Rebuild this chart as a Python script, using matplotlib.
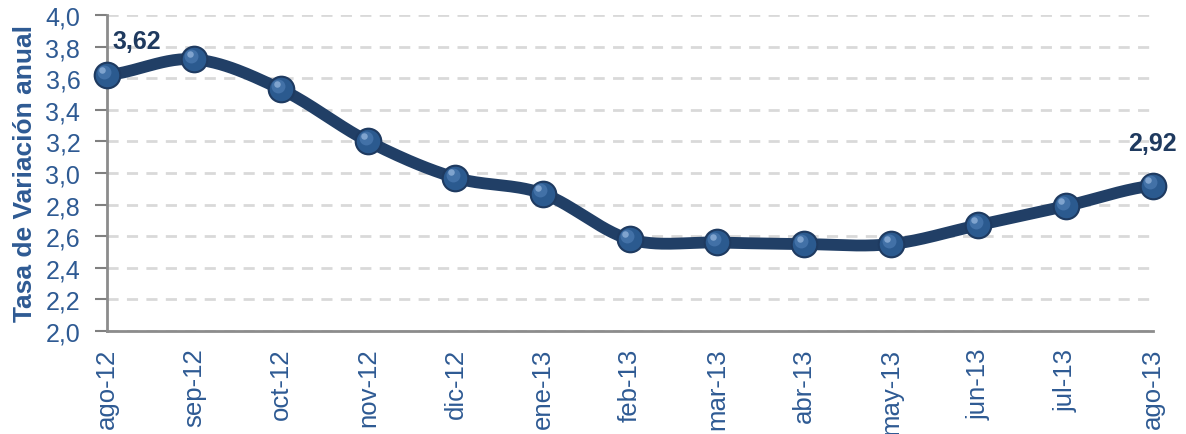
import numpy as np
import matplotlib
matplotlib.use("Agg")
import matplotlib.pyplot as plt
from matplotlib.ticker import FuncFormatter

months = ["ago-12", "sep-12", "oct-12", "nov-12", "dic-12", "ene-13", "feb-13",
          "mar-13", "abr-13", "may-13", "jun-13", "jul-13", "ago-13"]
values = [3.62, 3.72, 3.53, 3.20, 2.97, 2.87, 2.58, 2.56, 2.55, 2.55, 2.67, 2.79, 2.92]
y_ticks = [2.0, 2.2, 2.4, 2.6, 2.8, 3.0, 3.2, 3.4, 3.6, 3.8, 4.0]
ylabel_text = "Tasa de Variación anual"

plt.rcParams['font.family'] = ['Liberation Sans', 'DejaVu Sans']

LINE = "#213F66"
FACE = "#2B5A8F"
TXT = "#2E5A93"

x = np.arange(len(values), dtype=float)
y = np.array(values, dtype=float)

# Catmull-Rom smoothing (like Excel's smoothed line)
def smooth(xp, yp, n=30):
    px = np.concatenate([[2 * xp[0] - xp[1]], xp, [2 * xp[-1] - xp[-2]]])
    py = np.concatenate([[yp[0]], yp, [yp[-1]]])
    xs, ys = [], []
    for i in range(1, len(px) - 2):
        t = np.linspace(0, 1, n, endpoint=False)
        for arr, out in ((px, xs), (py, ys)):
            p0, p1, p2, p3 = arr[i - 1], arr[i], arr[i + 1], arr[i + 2]
            out.append(0.5 * ((2 * p1) + (-p0 + p2) * t +
                              (2 * p0 - 5 * p1 + 4 * p2 - p3) * t ** 2 +
                              (-p0 + 3 * p1 - 3 * p2 + p3) * t ** 3))
    xs.append([xp[-1]]); ys.append([yp[-1]])
    return np.concatenate(xs), np.concatenate(ys)

fig = plt.figure(figsize=(11.86, 4.35), dpi=100)
ax = fig.add_axes([0.090, 0.237, 0.882, 0.726])

sx, sy = smooth(x, y)
ax.plot(sx, sy, color=LINE, lw=8.5, solid_capstyle='round', zorder=3, clip_on=False)
# markers with simple sphere effect
ax.scatter(x, y, s=340, color=FACE, edgecolor="#1E3A60", linewidth=1.5, zorder=4, clip_on=False)
ax.scatter(x - 0.03, y + 0.02, s=100, color="#4D7BB2", alpha=0.7, linewidth=0, zorder=5, clip_on=False)
ax.scatter(x - 0.05, y + 0.035, s=22, color="#8FB0D8", alpha=0.8, linewidth=0, zorder=6, clip_on=False)

ax.set_xlim(0, len(values) - 1)
ax.set_ylim(2.0, 4.0)
ax.set_yticks(y_ticks)
ax.yaxis.set_major_formatter(FuncFormatter(lambda v, p: f"{v:.1f}".replace(".", ",")))
ax.set_xticks(x)
ax.set_xticklabels(months, rotation=90, fontsize=18.5, color=TXT)
ax.tick_params(axis='y', labelsize=18, labelcolor=TXT, color="#808080", length=9, width=1.5, pad=10)
ax.tick_params(axis='x', length=0, pad=12)

ax.grid(axis='y', color="#D9D9D9", linestyle=(0, (4, 3)), linewidth=2)
ax.set_axisbelow(True)
for s in ("top", "right"):
    ax.spines[s].set_visible(False)
for s in ("left", "bottom"):
    ax.spines[s].set_color("#8C8C8C")
    ax.spines[s].set_linewidth(2)

ax.set_ylabel(ylabel_text, fontsize=19, fontweight='bold', color=TXT, labelpad=6)

ax.annotate("3,62", (x[0], y[0]), xytext=(22, 24.5), textcoords='offset points',
            ha='center', va='center', fontsize=18, fontweight='bold', color="#1F3A5F")
ax.annotate("2,92", (x[-1], y[-1]), xytext=(0, 31), textcoords='offset points',
            ha='center', va='center', fontsize=18, fontweight='bold', color="#1F3A5F")

fig.savefig("out.png", dpi=100)
